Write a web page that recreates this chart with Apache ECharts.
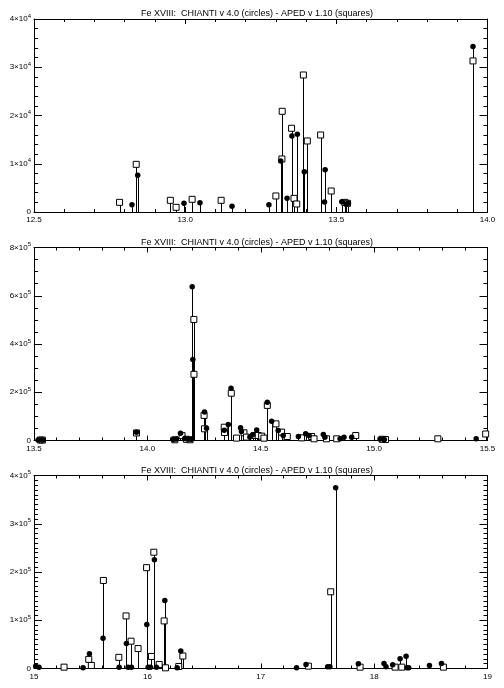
<!DOCTYPE html>
<html><head><meta charset="utf-8">
<script src="https://cdn.jsdelivr.net/npm/echarts@6/dist/echarts.min.js"></script>
<style>html,body{margin:0;padding:0;background:#fff}#c{width:504px;height:688px}</style>
</head><body><div id="c"></div>
<script>
const titleText = 'Fe XVIII:  CHIANTI v 4.0 (circles) - APED v 1.10 (squares)';

// ---------- Panel 1 (12.5 - 14.0) ----------
const p1CircX = [12.824, 12.843, 12.996, 13.049, 13.155, 13.277, 13.316, 13.337, 13.353, 13.371, 13.394, 13.461, 13.463, 13.518, 13.532, 13.540, 13.952];
const p1CircY = [1520, 7600, 1800, 1940, 1170, 1520, 10570, 2830, 15760, 16100, 8360, 2070, 8780, 2140, 1660, 1800, 34280];
const p1SqX = [12.783, 12.838, 12.951, 12.970, 13.023, 13.119, 13.300, 13.320, 13.321, 13.352, 13.360, 13.369, 13.391, 13.404, 13.448, 13.483, 13.528, 13.537, 13.952];
const p1SqY = [2000, 9880, 2420, 970, 2630, 2420, 3320, 10990, 20870, 17350, 2830, 1660, 28400, 14720, 15960, 4350, 2000, 1800, 31310];

// ---------- Panel 2 (13.5 - 15.5) ----------
const p2CircX = [13.518, 13.532, 13.540, 13.952, 14.114, 14.128, 14.146, 14.165, 14.180, 14.194, 14.1976, 14.2005, 14.252, 14.261, 14.339, 14.357, 14.369, 14.411, 14.415, 14.452, 14.464, 14.482, 14.529, 14.548, 14.577, 14.599, 14.666, 14.698, 14.713, 14.776, 14.783, 14.850, 14.867, 14.901, 15.026, 15.045, 15.450];
const p2CircY = [2140, 1660, 1800, 34280, 4000, 6000, 30000, 8000, 5000, 5000, 637600, 335400, 118000, 51000, 42000, 66500, 217000, 52700, 37000, 14000, 23600, 44000, 159000, 80000, 41600, 20800, 16600, 27700, 20800, 25000, 13900, 7000, 13900, 13900, 6000, 4000, 7000];
const p2SqX = [13.528, 13.537, 13.952, 14.121, 14.153, 14.172, 14.188, 14.205, 14.2055, 14.250, 14.252, 14.339, 14.340, 14.370, 14.393, 14.426, 14.437, 14.474, 14.489, 14.504, 14.514, 14.529, 14.567, 14.592, 14.610, 14.617, 14.680, 14.724, 14.735, 14.790, 14.835, 14.919, 15.036, 15.050, 15.281, 15.492];
const p2SqY = [2000, 1800, 31310, 3000, 20000, 5000, 3000, 501700, 274400, 104000, 48500, 55000, 33000, 196000, 10000, 32000, 14000, 20800, 20800, 18000, 9700, 145500, 69000, 34600, 13900, 16600, 11000, 16600, 7000, 7000, 7000, 20800, 5000, 4000, 7000, 27000];

// ---------- Panel 3 (15 - 19) ----------
const p3CircX = [15.015, 15.044, 15.433, 15.489, 15.609, 15.751, 15.815, 15.830, 15.860, 15.995, 16.007, 16.027, 16.062, 16.080, 16.154, 16.263, 16.295, 17.316, 17.399, 17.590, 17.610, 17.661, 17.861, 18.087, 18.105, 18.164, 18.229, 18.282, 18.290, 18.305, 18.488, 18.594];
const p3CircY = [4900, 2800, 1400, 30800, 62900, 2800, 51700, 2800, 2800, 91000, 2800, 2800, 225500, 2800, 141000, 1400, 36400, 1400, 8400, 3500, 3500, 374700, 9800, 10500, 3500, 7700, 20300, 25200, 1400, 1400, 6300, 10500];
const p3SqX = [15.265, 15.483, 15.506, 15.612, 15.748, 15.812, 15.856, 15.918, 15.993, 16.036, 16.057, 16.104, 16.148, 16.160, 16.277, 16.313, 17.420, 17.617, 17.876, 18.185, 18.244, 18.611];
const p3SqY = [2800, 18900, 6300, 182500, 23100, 109000, 56600, 41300, 209000, 25000, 241000, 8400, 98600, 1400, 4200, 25900, 4900, 159000, 2800, 2800, 2800, 2800];

// axis ranges / tick settings
const p1XAxis = {min: 12.5, max: 14.0, interval: 0.5, minor: 5, decimals: 1};
const p2XAxis = {min: 13.5, max: 15.5, interval: 0.5, minor: 5, decimals: 1};
const p3XAxis = {min: 15, max: 19, interval: 1, minor: 5, decimals: 0};
const p1YAxis = {max: 40000, interval: 10000, minor: 5, exp: 4};
const p2YAxis = {max: 800000, interval: 200000, minor: 4, exp: 5};
const p3YAxis = {max: 400000, interval: 100000, minor: 10, exp: 5};

const panels = [
  {cx: p1CircX, cy: p1CircY, sx: p1SqX, sy: p1SqY, xa: p1XAxis, ya: p1YAxis},
  {cx: p2CircX, cy: p2CircY, sx: p2SqX, sy: p2SqY, xa: p2XAxis, ya: p2YAxis},
  {cx: p3CircX, cy: p3CircY, sx: p3SqX, sy: p3SqY, xa: p3XAxis, ya: p3YAxis}
];

const FONT = 'Liberation Sans';
const gridTops = [19, 247.5, 475.5];
const gridH = 193;
const titleTops = [9.5, 238, 466];

const grids = [], xAxes = [], yAxes = [], series = [], titles = [];
const zip = (a, b) => a.map((v, k) => [v, b[k]]);

function stemItem(params, api) {
  const p0 = api.coord([api.value(0), 0]);
  const p1 = api.coord([api.value(0), api.value(1)]);
  const x = Math.round(p0[0]) + 0.5;
  return {type: 'line', shape: {x1: x, y1: p0[1], x2: x, y2: p1[1]},
          style: {stroke: '#000', lineWidth: 1}};
}

panels.forEach((p, i) => {
  grids.push({left: 34, top: gridTops[i], width: 453.5, height: gridH});
  titles.push({text: titleText, left: 257, top: titleTops[i], textAlign: 'center', padding: 0,
               textStyle: {fontSize: 9, fontWeight: 'normal', color: '#000', fontFamily: FONT}});
  const xCommon = {type: 'value', gridIndex: i, min: p.xa.min, max: p.xa.max, interval: p.xa.interval,
    axisLine: {show: true, onZero: false, lineStyle: {color: '#000', width: 1}},
    axisTick: {show: true, inside: true, length: 5, lineStyle: {color: '#000', width: 1}},
    minorTick: {show: true, splitNumber: p.xa.minor, length: 3, lineStyle: {color: '#000', width: 1}},
    splitLine: {show: false}, minorSplitLine: {show: false}};
  xAxes.push(Object.assign({}, xCommon, {position: 'bottom',
    axisLabel: {show: true, color: '#000', fontSize: 8, fontFamily: FONT, margin: 4,
      formatter: v => v.toFixed(p.xa.decimals)}}));
  xAxes.push(Object.assign({}, xCommon, {position: 'top', axisLabel: {show: false}}));
  const yCommon = {type: 'value', gridIndex: i, min: 0, max: p.ya.max, interval: p.ya.interval,
    axisLine: {show: true, onZero: false, lineStyle: {color: '#000', width: 1}},
    axisTick: {show: true, inside: true, length: 8, lineStyle: {color: '#000', width: 1}},
    minorTick: {show: true, splitNumber: p.ya.minor, length: 4, lineStyle: {color: '#000', width: 1}},
    splitLine: {show: false}, minorSplitLine: {show: false}};
  const e = p.ya.exp;
  yAxes.push(Object.assign({}, yCommon, {position: 'left',
    axisLabel: {show: true, margin: 3, color: '#000',
      formatter: v => v === 0 ? '{m|0}' : '{m|' + Math.round(v / Math.pow(10, e)) + '×10}{s|' + e + '}',
      rich: {m: {fontSize: 8, fontFamily: FONT, color: '#000', lineHeight: 12},
             s: {fontSize: 6, fontFamily: FONT, color: '#000', verticalAlign: 'top', lineHeight: 6}}}}));
  yAxes.push(Object.assign({}, yCommon, {position: 'right', axisLabel: {show: false}}));

  const common = {xAxisIndex: 2 * i, yAxisIndex: 2 * i, silent: true, animation: false};
  series.push(Object.assign({type: 'custom', renderItem: stemItem, data: zip(p.cx, p.cy), clip: true, z: 1}, common));
  series.push(Object.assign({type: 'custom', renderItem: stemItem, data: zip(p.sx, p.sy), clip: true, z: 1}, common));
  series.push(Object.assign({type: 'scatter', symbol: 'rect', symbolSize: 6, data: zip(p.sx, p.sy), z: 2,
    itemStyle: {color: '#fff', borderColor: '#000', borderWidth: 1, opacity: 1}}, common));
  series.push(Object.assign({type: 'scatter', symbol: 'circle', symbolSize: 5.5, data: zip(p.cx, p.cy), z: 3,
    itemStyle: {color: '#000', opacity: 1}}, common));
});

const chart = echarts.init(document.getElementById('c'), null, {renderer: 'canvas'});
chart.setOption({animation: false, backgroundColor: '#fff', title: titles, grid: grids,
  xAxis: xAxes, yAxis: yAxes, series: series});
</script></body></html>
